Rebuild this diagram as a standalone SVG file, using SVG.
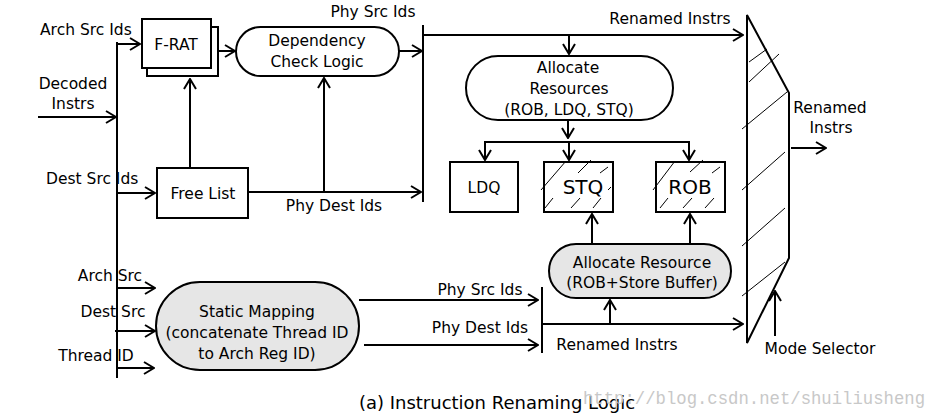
<svg xmlns="http://www.w3.org/2000/svg" width="936" height="418" viewBox="0 0 936 418">
<style>
text{font-family:"DejaVu Sans","Liberation Sans",sans-serif;font-size:15.5px;fill:#000}
.m{text-anchor:middle}
.big{font-size:20px}
.cap{font-size:18px}
.wm{font-family:"Liberation Mono","DejaVu Sans Mono",monospace;font-size:18px;fill:#c8c8c8}
.box{fill:#fff;stroke:#000;stroke-width:2}
.gray{fill:#e6e6e6;stroke:#000;stroke-width:2}
.ln{fill:none;stroke:#000;stroke-width:2}
.ar{fill:none;stroke:#000;stroke-width:2;marker-end:url(#ah)}
.h{stroke:#000;stroke-width:1;fill:none}
</style>
<defs>
<marker id="ah" viewBox="0 0 12 14" refX="11" refY="7" markerWidth="12" markerHeight="14" markerUnits="userSpaceOnUse" orient="auto">
<path d="M1,1 L11,7 L1,13" fill="none" stroke="#000" stroke-width="2"/>
</marker>
</defs>
<rect width="936" height="418" fill="#fff"/>

<g id="connectors">
<line class="ln" x1="117" y1="42" x2="117" y2="378"/>
<line class="ar" x1="117" y1="44" x2="140" y2="44"/>
<line class="ar" x1="38" y1="117" x2="116" y2="117"/>
<line class="ar" x1="117" y1="193" x2="155" y2="193"/>
<line class="ar" x1="190" y1="168" x2="190" y2="79"/>
<line class="ar" x1="218" y1="51" x2="235" y2="51"/>
<line class="ar" x1="248" y1="192" x2="421" y2="192"/>
<line class="ar" x1="324" y1="192" x2="324" y2="78"/>
<line class="ar" x1="399" y1="51" x2="422" y2="51"/>
<line class="ln" x1="423" y1="25" x2="423" y2="202"/>
<line class="ar" x1="423" y1="35" x2="743" y2="35"/>
<line class="ar" x1="569" y1="35" x2="569" y2="54"/>
<line class="ar" x1="568" y1="120" x2="568" y2="138"/>
<line class="ln" x1="484" y1="142" x2="690" y2="142"/>
<line class="ar" x1="485" y1="142" x2="485" y2="160"/>
<line class="ar" x1="569" y1="142" x2="569" y2="160"/>
<line class="ar" x1="689" y1="142" x2="689" y2="160"/>
<line class="ar" x1="592" y1="244" x2="592" y2="214"/>
<line class="ar" x1="690" y1="244" x2="690" y2="214"/>
<line class="ar" x1="117" y1="288" x2="155" y2="288"/>
<line class="ar" x1="115" y1="331" x2="155" y2="331"/>
<line class="ar" x1="117" y1="368" x2="154" y2="368"/>
<line class="ar" x1="359" y1="300" x2="538" y2="300"/>
<line class="ar" x1="364" y1="345" x2="538" y2="345"/>
<line class="ln" x1="542" y1="287" x2="542" y2="353"/>
<line class="ar" x1="542" y1="324" x2="743" y2="324"/>
<line class="ar" x1="610" y1="324" x2="610" y2="300"/>
<line class="ar" x1="791" y1="148" x2="826" y2="148"/>
<line class="ar" x1="775" y1="336" x2="775" y2="291"/>
</g>

<g id="frat">
<rect class="box" x="147" y="27" width="71" height="49"/>
<rect class="box" x="142" y="19" width="69" height="49"/>
<text class="m" x="176" y="50">F-RAT</text>
</g>
<g id="dependency">
<rect class="box" x="236" y="27" width="163" height="49" rx="24.5"/>
<text class="m" x="317" y="46">Dependency</text>
<text class="m" x="317" y="67">Check Logic</text>
</g>
<g id="freelist">
<rect class="box" x="157" y="168" width="91" height="50"/>
<text class="m" x="203" y="199">Free List</text>
</g>
<g id="allocate-resources">
<rect class="box" x="466" y="56" width="207" height="64" rx="32"/>
<text class="m" x="568" y="73">Allocate</text>
<text class="m" x="569" y="94">Resources</text>
<text class="m" x="569" y="115">(ROB, LDQ, STQ)</text>
</g>
<g id="ldq">
<rect class="box" x="450" y="162" width="68" height="50"/>
<text class="m" x="484" y="193">LDQ</text>
</g>
<g id="stq">
<rect class="box" x="544" y="162" width="69" height="50"/>
<path class="h" d="M541,190 L566,161 M578,173 L591,160 M600,173 L608,167 M545,208 L553,198 M571,208 L580,198 M593,208 L601,198 M608,190 L611,187"/>
<text class="m big" x="583" y="194">STQ</text>
</g>
<g id="rob">
<rect class="box" x="656" y="162" width="69" height="50"/>
<path class="h" d="M653,190 L675,161 M690,172 L703,160 M712,173 L720,167 M660,208 L668,198 M683,208 L692,198 M705,208 L714,198"/>
<text class="m big" x="690" y="194">ROB</text>
</g>
<g id="allocate-resource">
<rect class="gray" x="549" y="244" width="182" height="54" rx="27"/>
<text class="m" x="642" y="268">Allocate Resource</text>
<text class="m" x="642" y="288">(ROB+Store Buffer)</text>
</g>
<g id="static-mapping">
<rect class="gray" x="156" y="282" width="203" height="88" rx="44"/>
<text class="m" x="257" y="317">Static Mapping</text>
<text class="m" x="257" y="338">(concatenate Thread ID</text>
<text class="m" x="257" y="359">to Arch Reg ID)</text>
</g>
<g id="mux">
<path class="ln" d="M747,15 L789,93 L789,258 L747,343 Z"/>
<path class="h" d="M749,62 L767,49 M749,82 L779,54 M742,129 L787,92 M742,190 L785,152 M742,246 L785,208 M742,296 L785,262"/>
</g>

<g id="labels">
<text x="40" y="35">Arch Src Ids</text>
<text class="m" x="73" y="89">Decoded</text>
<text class="m" x="73" y="109">Instrs</text>
<text x="46" y="184">Dest Src Ids</text>
<text class="m" x="373" y="17">Phy Src Ids</text>
<text class="m" x="334" y="211">Phy Dest Ids</text>
<text class="m" x="670" y="24">Renamed Instrs</text>
<text class="m" x="830" y="113">Renamed</text>
<text class="m" x="831" y="133">Instrs</text>
<text class="m" x="110" y="281">Arch Src</text>
<text class="m" x="113" y="317">Dest Src</text>
<text class="m" x="96" y="361">Thread ID</text>
<text class="m" x="480" y="295">Phy Src Ids</text>
<text class="m" x="480" y="333">Phy Dest Ids</text>
<text class="m" x="617" y="350">Renamed Instrs</text>
<text class="m" x="820" y="354">Mode Selector</text>
<text class="m cap" x="497" y="409">(a) Instruction Renaming Logic</text>
<text class="wm" x="583" y="404" textLength="342" lengthAdjust="spacingAndGlyphs">http://blog.csdn.net/shuiliusheng</text>
</g>
</svg>
